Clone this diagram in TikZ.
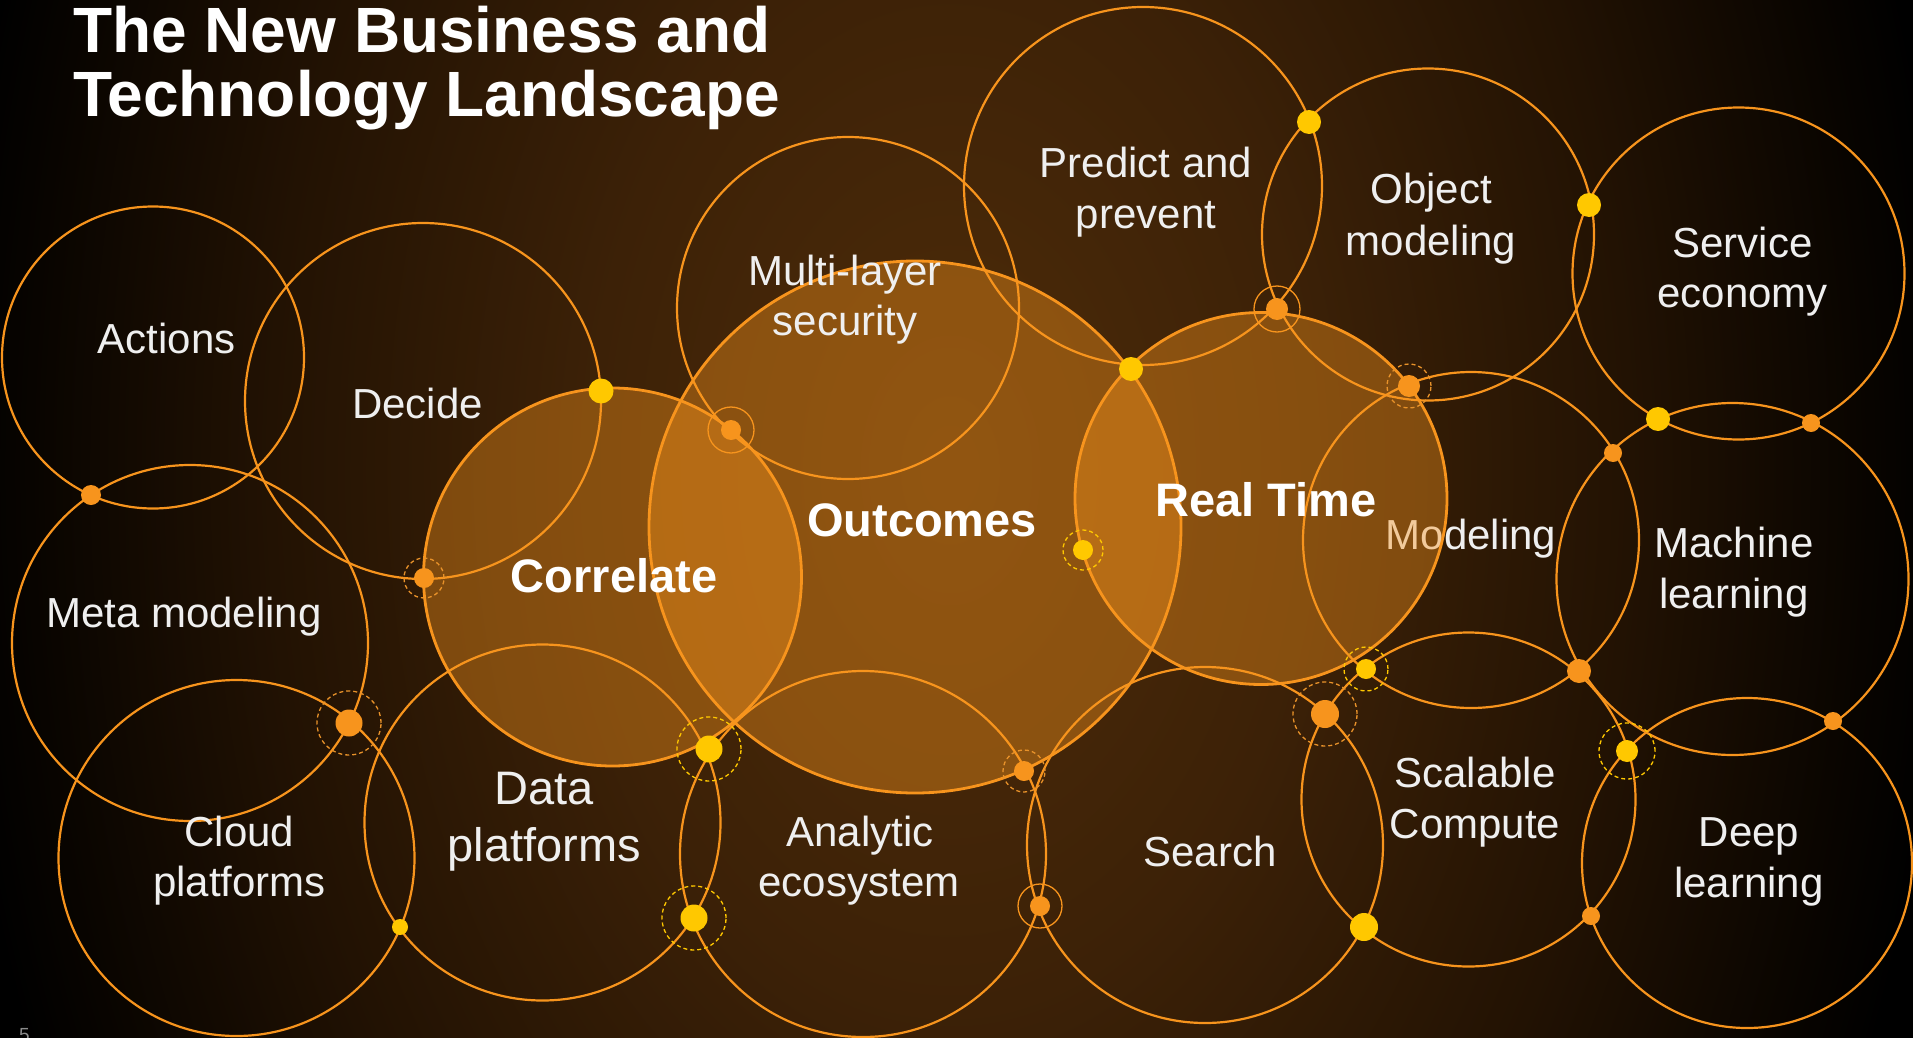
\documentclass[tikz,border=0pt]{standalone}
\usepackage{fontspec}
\setmainfont{Liberation Sans}
\definecolor{orng}{HTML}{F7941D}
\definecolor{ylw}{HTML}{FFC800}
\definecolor{ohalo}{HTML}{E8922A}
\definecolor{txt}{HTML}{EFEFEF}
\definecolor{pgnum}{HTML}{8A8A8A}
\definecolor{bga}{HTML}{4E2C09}
\definecolor{bgb}{HTML}{3C2107}
\definecolor{bgc}{HTML}{221203}
\definecolor{bgd}{HTML}{080400}
\pgfdeclareradialshading{bgshade}{\pgfpoint{0bp}{0bp}}{color(0bp)=(bga); color(9bp)=(bgb); color(17bp)=(bgc); color(23bp)=(bgd); color(25bp)=(black); color(50bp)=(black)}
\begin{document}
\begin{tikzpicture}[x=1pt,y=-1pt,
  ring/.style={draw=orng, line width=2.2pt},
  hotring/.style={draw=orng, line width=2.8pt},
  hotfill/.style={fill=orng, fill opacity=0.4},
  ydot/.style={circle, fill=ylw, inner sep=0pt, minimum size=#1},
  odot/.style={circle, fill=orng, inner sep=0pt, minimum size=#1},
  yhalo/.style={draw=ylw, line width=1.3pt, dash pattern=on 4pt off 3pt},
  ohalod/.style={draw=ohalo, line width=1.3pt, dash pattern=on 4pt off 3pt},
  ohalos/.style={draw=orng, line width=1.3pt},
  lbl/.style={text=txt, font=\fontsize{42}{50}\selectfont, anchor=base, inner sep=0pt},
  lblbig/.style={text=txt, font=\fontsize{47}{56}\selectfont, anchor=base, inner sep=0pt},
  hero/.style={text=white, font=\fontsize{47}{56}\selectfont\bfseries, anchor=base, inner sep=0pt},
  ttl/.style={text=white, font=\fontsize{64}{64}\selectfont\bfseries, anchor=base west, inner sep=0pt}]
\useasboundingbox (0,0) rectangle (1913,1038);
\clip (0,0) rectangle (1913,1038);
\fill[black] (0,0) rectangle (1913,1038);
\shade[shading=bgshade] (-50,-1030) rectangle (1950,1970);

% label that sits under the Real Time fill
\node[lbl] (modeling) at (1471,549) {Modeling};

% filled circles
\fill[hotfill] (612.5,577) circle[radius=189pt];
\fill[hotfill] (915,527) circle[radius=266pt];
\fill[hotfill] (1261,498.5) circle[radius=186pt];

% plain circles
\draw[ring] (153,357.5) circle[radius=151pt];
\draw[ring] (423,401) circle[radius=178pt];
\draw[ring] (190,643) circle[radius=178pt];
\draw[ring] (236.5,858) circle[radius=178pt];
\draw[ring] (542.5,822.5) circle[radius=178pt];
\draw[ring] (863,854) circle[radius=183pt];
\draw[ring] (848,308) circle[radius=171pt];
\draw[ring] (1143,186) circle[radius=179pt];
\draw[ring] (1428,234.5) circle[radius=166pt];
\draw[ring] (1738.5,273.5) circle[radius=166pt];
\draw[ring] (1471,540) circle[radius=168pt];
\draw[ring] (1732.5,579) circle[radius=176pt];
\draw[ring] (1205,845) circle[radius=178pt];
\draw[ring] (1468.5,799.5) circle[radius=167pt];
\draw[ring] (1747,863) circle[radius=165pt];
\draw[hotring] (612.5,577) circle[radius=189pt];
\draw[hotring] (915,527) circle[radius=266pt];
\draw[hotring] (1261,498.5) circle[radius=186pt];

% dots
\node[odot=20pt] (d1) at (91,495) {};
\node[ydot=25pt] (d2) at (601,391) {};
\node[odot=20pt] (d3) at (424,578) {};
\draw[ohalod] (d3) circle[radius=20pt];
\node[odot=20pt] (d4) at (731,430) {};
\draw[ohalos] (d4) circle[radius=23pt];
\node[odot=27pt] (d5) at (349,723) {};
\draw[ohalod] (d5) circle[radius=32pt];
\node[ydot=16pt] (d6) at (400,927) {};
\node[ydot=27pt] (d7) at (709,749) {};
\draw[yhalo] (d7) circle[radius=32pt];
\node[ydot=27pt] (d8) at (694,918) {};
\draw[yhalo] (d8) circle[radius=32pt];
\node[odot=20pt] (d9) at (1024,771) {};
\draw[ohalod] (d9) circle[radius=21pt];
\node[odot=20pt] (d10) at (1040,906) {};
\draw[ohalos] (d10) circle[radius=22pt];
\node[ydot=20pt] (d11) at (1083,550) {};
\draw[yhalo] (d11) circle[radius=20pt];
\node[ydot=24pt] (d12) at (1131,369) {};
\node[ydot=24pt] (d13) at (1309,122) {};
\node[odot=22pt] (d14) at (1277,309) {};
\draw[ohalos] (d14) circle[radius=23pt];
\node[odot=22pt] (d15) at (1409,386) {};
\draw[ohalod] (d15) circle[radius=22pt];
\node[ydot=24pt] (d16) at (1589,205) {};
\node[ydot=24pt] (d17) at (1658,419) {};
\node[odot=18pt] (d18) at (1811,423) {};
\node[odot=18pt] (d19) at (1613,453) {};
\node[ydot=20pt] (d20) at (1366,669) {};
\draw[yhalo] (d20) circle[radius=22pt];
\node[odot=28pt] (d21) at (1325,714) {};
\draw[ohalod] (d21) circle[radius=32pt];
\node[odot=24pt] (d22) at (1579,671) {};
\node[ydot=22pt] (d23) at (1627,751) {};
\draw[yhalo] (d23) circle[radius=28pt];
\node[odot=18pt] (d24) at (1833,721) {};
\node[odot=18pt] (d25) at (1591,916) {};
\node[ydot=28pt] (d26) at (1364,927) {};

% title
\node[ttl] (title1) at (73,53) {The New Business and};
\node[ttl] (title2) at (73,117) {Technology Landscape};

% labels
\node[lbl] (actions) at (166.5,353) {Actions};
\node[lbl] (decide) at (417.5,418) {Decide};
\node[lbl] (meta) at (184,627) {Meta modeling};
\node[lbl] (cloud1) at (239.5,846) {Cloud};
\node[lbl] (cloud2) at (239.5,896) {platforms};
\node[lblbig] (data1) at (544.5,804) {Data};
\node[lblbig] (data2) at (544.5,861) {platforms};
\node[lbl] (multi1) at (845,285) {Multi-layer};
\node[lbl] (multi2) at (845,335) {security};
\node[lbl] (predict1) at (1146,177) {Predict and};
\node[lbl] (predict2) at (1146,228) {prevent};
\node[lbl] (object1) at (1431,203) {Object};
\node[lbl] (object2) at (1431,255) {modeling};
\node[lbl] (service1) at (1742.5,257) {Service};
\node[lbl] (service2) at (1742.5,307) {economy};
\node[lbl] (machine1) at (1734,557) {Machine};
\node[lbl] (machine2) at (1734,608) {learning};
\node[lbl] (scalable1) at (1475,787) {Scalable};
\node[lbl] (scalable2) at (1475,838) {Compute};
\node[lbl] (deep1) at (1749,846) {Deep};
\node[lbl] (deep2) at (1749,897) {learning};
\node[lbl] (analytic1) at (860,846) {Analytic};
\node[lbl] (analytic2) at (859,896) {ecosystem};
\node[lbl] (search) at (1210,866) {Search};
\node[hero] (correlate) at (614,592) {Correlate};
\node[hero] (outcomes) at (922,536) {Outcomes};
\node[hero] (realtime) at (1266,516) {Real Time};

\node[text=pgnum, font=\fontsize{19}{22}\selectfont, anchor=base west, inner sep=0pt] (pagenum) at (19,1041) {5};
\end{tikzpicture}
\end{document}
